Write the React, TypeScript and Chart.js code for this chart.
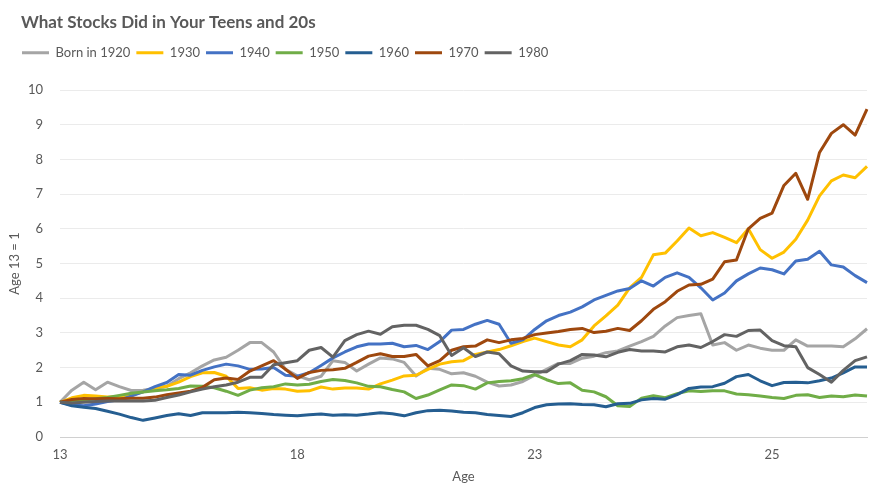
import { useEffect, useRef } from "react"
import { Chart, registerables } from "chart.js"

Chart.register(...registerables)

// quarterly readings, age 13 = 1 (index 0 = age 13, 20 quarters = 5 years)
const ageTicks = ["13", "18", "23", "25"]
const seriesNames = ["Born in 1920", "1930", "1940", "1950", "1960", "1970", "1980"]
const seriesColors = ["#A5A5A5", "#FFC000", "#4472C4", "#70AD47", "#255E91", "#9E480E", "#636363"]

const born1920 = [
  1.0, 1.35, 1.58, 1.36, 1.58, 1.45, 1.34, 1.35, 1.4, 1.46,
  1.68, 1.85, 2.05, 2.22, 2.3, 2.5, 2.72, 2.72, 2.45, 1.95,
  1.76, 1.65, 1.75, 2.2, 2.15, 1.9, 2.1, 2.28, 2.25, 2.15,
  1.76, 1.98, 1.95, 1.82, 1.85, 1.75, 1.58, 1.47, 1.5, 1.6,
  1.78, 1.95, 2.12, 2.12, 2.27, 2.33, 2.43, 2.48, 2.62, 2.75,
  2.9, 3.2, 3.44, 3.5, 3.55, 2.65, 2.72, 2.5, 2.65, 2.56,
  2.5, 2.5, 2.8, 2.62, 2.62, 2.62, 2.6, 2.83, 3.12,
]
const born1930 = [
  1.0, 1.13, 1.2, 1.18, 1.15, 1.15, 1.2, 1.3, 1.42, 1.46,
  1.58, 1.74, 1.85, 1.86, 1.75, 1.4, 1.42, 1.35, 1.4, 1.38,
  1.32, 1.33, 1.44, 1.38, 1.41, 1.41, 1.38, 1.53, 1.64, 1.76,
  1.78, 1.95, 2.1, 2.17, 2.2, 2.38, 2.45, 2.52, 2.63, 2.75,
  2.85, 2.75, 2.65, 2.6, 2.8, 3.2, 3.49, 3.8, 4.3, 4.6,
  5.25, 5.3, 5.65, 6.02, 5.8, 5.89, 5.75, 5.6, 6.0, 5.4,
  5.15, 5.33, 5.7, 6.25, 6.95, 7.38, 7.55, 7.47, 7.8,
]
const born1940 = [
  1.0, 0.92, 0.9, 0.95, 1.02, 1.07, 1.18, 1.3, 1.45, 1.57,
  1.8, 1.78, 1.92, 2.02, 2.1, 2.05, 1.95, 1.96, 2.0, 1.78,
  1.75, 1.85, 2.06, 2.28, 2.45, 2.6, 2.68, 2.68, 2.7, 2.6,
  2.64, 2.52, 2.75, 3.08, 3.1, 3.25, 3.36, 3.25, 2.7, 2.8,
  3.1, 3.35, 3.5, 3.6, 3.75, 3.95, 4.08, 4.21, 4.28, 4.5,
  4.35, 4.6, 4.73, 4.6, 4.3, 3.95, 4.15, 4.5, 4.7, 4.87,
  4.82, 4.7, 5.07, 5.12, 5.35, 4.96, 4.9, 4.65, 4.45,
]
const born1950 = [
  1.0, 1.04, 1.06, 1.1, 1.14, 1.2, 1.26, 1.3, 1.33, 1.36,
  1.4, 1.47, 1.46, 1.42, 1.32, 1.2, 1.35, 1.42, 1.45, 1.53,
  1.5, 1.52, 1.6, 1.66, 1.63, 1.56, 1.46, 1.45, 1.37, 1.3,
  1.11, 1.21, 1.36, 1.5, 1.48, 1.38, 1.56, 1.6, 1.62, 1.68,
  1.8, 1.65, 1.54, 1.56, 1.35, 1.3, 1.16, 0.9, 0.88, 1.12,
  1.19, 1.13, 1.25, 1.33, 1.31, 1.33, 1.33, 1.24, 1.22, 1.18,
  1.14, 1.11, 1.2, 1.22, 1.14, 1.18, 1.16, 1.21, 1.18,
]
const born1960 = [
  1.0, 0.9, 0.86, 0.82, 0.74, 0.66, 0.56, 0.48, 0.55, 0.62,
  0.67, 0.62, 0.7, 0.7, 0.7, 0.71, 0.7, 0.68, 0.65, 0.63,
  0.61, 0.64, 0.66, 0.63, 0.64, 0.63, 0.66, 0.7, 0.67, 0.61,
  0.7, 0.76, 0.77, 0.75, 0.71, 0.7, 0.65, 0.62, 0.59, 0.7,
  0.85, 0.93, 0.95, 0.96, 0.94, 0.93, 0.87, 0.96, 0.97, 1.07,
  1.11, 1.09, 1.22, 1.4, 1.44, 1.45, 1.55, 1.74, 1.8, 1.62,
  1.48, 1.57, 1.58, 1.56, 1.62, 1.7, 1.85, 2.02, 2.02,
]
const born1970 = [
  1.0, 1.08, 1.11, 1.1, 1.11, 1.1, 1.12, 1.12, 1.15, 1.22,
  1.27, 1.32, 1.43, 1.65, 1.7, 1.66, 1.9, 2.05, 2.2, 1.95,
  1.69, 1.86, 1.92, 1.94, 1.98, 2.15, 2.33, 2.4, 2.32, 2.32,
  2.38, 2.05, 2.2, 2.5, 2.6, 2.62, 2.8, 2.72, 2.8, 2.84,
  2.95, 3.0, 3.04, 3.1, 3.13, 3.01, 3.05, 3.13, 3.07, 3.35,
  3.68, 3.9, 4.2, 4.38, 4.4, 4.55, 5.05, 5.1, 6.0, 6.3,
  6.45, 7.25, 7.6, 6.85, 8.2, 8.75, 9.0, 8.7, 9.45,
]
const born1980 = [
  1.0, 0.98, 1.0, 1.02, 1.04, 1.04, 1.04, 1.04, 1.06, 1.14,
  1.21, 1.3, 1.38, 1.45, 1.5, 1.58, 1.72, 1.72, 2.08, 2.14,
  2.2, 2.5, 2.58, 2.3, 2.78, 2.95, 3.05, 2.96, 3.18, 3.22,
  3.22, 3.1, 2.92, 2.35, 2.57, 2.32, 2.45, 2.4, 2.05, 1.9,
  1.88, 1.88, 2.1, 2.2, 2.38, 2.36, 2.31, 2.44, 2.52, 2.48,
  2.48, 2.45, 2.6, 2.65, 2.58, 2.75, 2.95, 2.9, 3.07, 3.08,
  2.78, 2.63, 2.6, 2.0, 1.8, 1.58, 1.92, 2.2, 2.31,
]

const seriesData = [born1920, born1930, born1940, born1950, born1960, born1970, born1980]
const quarters = born1920.map((_, i) => String(i))

const textColor = "#595959"
const fontFamily = "Lato, 'Noto Sans', sans-serif"

// keep title and legend at the top of the canvas and a bit right of the y axis title
const headerOffset = {
  id: "headerOffset",
  afterLayout(chart: any) {
    const title = chart.titleBlock
    const legend = chart.legend
    const dy = title ? title.top : 0
    if (title) {
      title.top -= dy
      title.bottom -= dy
      title.left += 14
    }
    if (legend) {
      legend.top -= dy
      legend.bottom -= dy
      legend.left += 9
    }
  },
}

export default function App() {
  const chartRef = useRef<HTMLCanvasElement>(null)
  const chartInstance = useRef<Chart | null>(null)

  useEffect(() => {
    if (!chartRef.current) return
    const ctx = chartRef.current.getContext("2d")
    if (!ctx) return

    if (chartInstance.current) {
      chartInstance.current.destroy()
    }

    chartInstance.current = new Chart(ctx, {
      type: "line",
      data: {
        labels: quarters,
        datasets: seriesData.map((data, i) => ({
          label: seriesNames[i],
          data,
          borderColor: seriesColors[i],
          backgroundColor: seriesColors[i],
          borderWidth: 3,
          borderJoinStyle: "round" as const,
          pointRadius: 0,
          pointHoverRadius: 0,
          tension: 0,
          fill: false,
          order: seriesNames.length - 1 - i,
        })),
      },
      options: {
        animation: false,
        responsive: true,
        maintainAspectRatio: false,
        layout: { padding: { left: 7, right: 16, top: 0, bottom: 6 } },
        plugins: {
          title: {
            display: true,
            text: "What Stocks Did in Your Teens and 20s",
            align: "start",
            color: textColor,
            font: { family: fontFamily, size: 17, weight: "bold" },
            padding: { top: 12.5, bottom: 7.3 },
          },
          legend: {
            display: true,
            position: "top",
            align: "start",
            labels: {
              usePointStyle: true,
              pointStyle: "line",
              pointStyleWidth: 27,
              padding: 6,
              color: textColor,
              font: { family: fontFamily, size: 13 },
              sort: (a, b) => (a.datasetIndex ?? 0) - (b.datasetIndex ?? 0),
            },
          },
          tooltip: { enabled: false },
        },
        scales: {
          x: {
            type: "category",
            grid: { display: false, drawTicks: false },
            border: { display: true, color: "#D0D0D0", width: 1 },
            ticks: {
              autoSkip: false,
              maxRotation: 0,
              padding: 10,
              color: textColor,
              font: { family: fontFamily, size: 13 },
              callback: (_value, index) => (index % 20 === 0 ? ageTicks[index / 20] : ""),
            },
            title: {
              display: true,
              text: "Age",
              color: textColor,
              font: { family: fontFamily, size: 13 },
              padding: { top: 0, bottom: 4 },
            },
            afterFit: (scale) => {
              scale.height = 52
            },
          },
          y: {
            min: 0,
            max: 10,
            grid: { color: "#EBEBEB", drawTicks: false },
            border: { display: false },
            ticks: {
              stepSize: 1,
              padding: 17,
              color: textColor,
              font: { family: fontFamily, size: 13 },
            },
            title: {
              display: true,
              text: "Age 13 = 1",
              color: textColor,
              font: { family: fontFamily, size: 13 },
              padding: 0,
            },
            afterFit: (scale: any) => {
              scale.width = 53
              scale.paddingTop = 90
            },
          },
        },
      },
      plugins: [headerOffset],
    })

    return () => {
      if (chartInstance.current) {
        chartInstance.current.destroy()
        chartInstance.current = null
      }
    }
  }, [])

  return (
    <div style={{ position: "fixed", top: 0, left: 0, width: 883, height: 495, background: "#fff" }}>
      <canvas ref={chartRef}></canvas>
    </div>
  )
}
